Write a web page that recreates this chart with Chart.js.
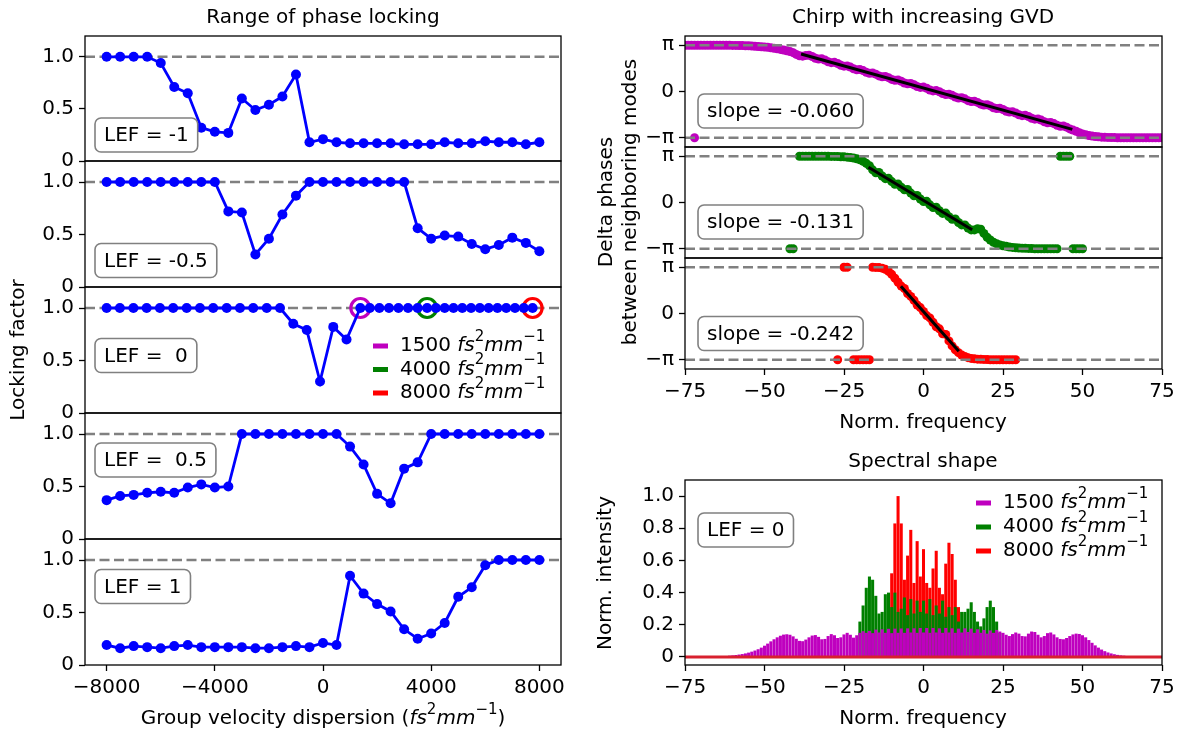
<!DOCTYPE html>
<html>
<head>
<meta charset="utf-8">
<title>Phase locking and chirp</title>
<script src="https://cdn.jsdelivr.net/npm/chart.js@4.4.1/dist/chart.umd.min.js"></script>
<style>
  body { margin: 0; background: #fff; }
  #fig { position: relative; width: 1188px; height: 734px; }
  #fig canvas { position: absolute; left: 0; top: 0; }
</style>
</head>
<body>
<div id="fig">
  <canvas id="lef-m1" width="1188" height="734"></canvas>
  <canvas id="lef-m05" width="1188" height="734"></canvas>
  <canvas id="lef-0" width="1188" height="734"></canvas>
  <canvas id="lef-05" width="1188" height="734"></canvas>
  <canvas id="lef-1" width="1188" height="734"></canvas>
  <canvas id="chirp-1500" width="1188" height="734"></canvas>
  <canvas id="chirp-4000" width="1188" height="734"></canvas>
  <canvas id="chirp-8000" width="1188" height="734"></canvas>
  <canvas id="spectrum" width="1188" height="734"></canvas>
</div>
<script>
const FONT = '"DejaVu Sans", sans-serif';
Chart.defaults.font.family = FONT;
Chart.defaults.font.size = 20;
Chart.defaults.color = '#000';

const M = '#bf00bf', G = '#008000', R = '#ff0000', BLUE = '#0000ff', GRAY = '#808080';

// ---- locking factor vs group velocity dispersion (fs^2/mm) ----
const gvd = [-8000, -7500, -7000, -6500, -6000, -5500, -5000, -4500, -4000, -3500, -3000,
  -2500, -2000, -1500, -1000, -500, 0, 500, 1000, 1500, 2000, 2500, 3000, 3500, 4000,
  4500, 5000, 5500, 6000, 6500, 7000, 7500, 8000];
const lockLEFm1 = [1.00, 1.00, 1.00, 1.00, 0.94, 0.71, 0.65, 0.32, 0.28, 0.27, 0.60,
  0.49, 0.54, 0.62, 0.83, 0.18, 0.21, 0.18, 0.17, 0.17, 0.17, 0.17, 0.16, 0.16, 0.16,
  0.18, 0.17, 0.17, 0.19, 0.18, 0.18, 0.16, 0.18];
const lockLEFm05 = [1.00, 1.00, 1.00, 1.00, 1.00, 1.00, 1.00, 1.00, 1.00, 0.72, 0.71,
  0.31, 0.46, 0.69, 0.87, 1.00, 1.00, 1.00, 1.00, 1.00, 1.00, 1.00, 1.00, 0.56, 0.46,
  0.49, 0.48, 0.41, 0.36, 0.40, 0.47, 0.42, 0.34];
const gvdLEF0 = [-8000, -7510, -7010, -6520, -6030, -5540, -5040, -4550, -4060, -3560,
  -3070, -2580, -2080, -1590, -1100, -600, -110, 380, 870, 1380, 1730, 2085, 2440, 2790,
  3145, 3500, 3850, 4175, 4500, 4825, 5150, 5475, 5800, 6125, 6450, 6775, 7100, 7425, 7750];
const lockLEF0 = [1.00, 1.00, 1.00, 1.00, 1.00, 1.00, 1.00, 1.00, 1.00, 1.00, 1.00,
  1.00, 1.00, 1.00, 0.85, 0.79, 0.30, 0.82, 0.70, 1.00, 1.00, 1.00, 1.00, 1.00, 1.00,
  1.00, 1.00, 1.00, 1.00, 1.00, 1.00, 1.00, 1.00, 1.00, 1.00, 1.00, 1.00, 1.00, 1.00];
const lockLEF05 = [0.37, 0.41, 0.42, 0.44, 0.45, 0.44, 0.49, 0.52, 0.49, 0.50, 1.00,
  1.00, 1.00, 1.00, 1.00, 1.00, 1.00, 1.00, 0.88, 0.71, 0.43, 0.34, 0.67, 0.73, 1.00,
  1.00, 1.00, 1.00, 1.00, 1.00, 1.00, 1.00, 1.00];
const lockLEF1 = [0.19, 0.16, 0.18, 0.17, 0.16, 0.18, 0.19, 0.17, 0.17, 0.17, 0.17,
  0.16, 0.16, 0.17, 0.18, 0.17, 0.21, 0.19, 0.85, 0.68, 0.58, 0.51, 0.34, 0.25, 0.30,
  0.40, 0.65, 0.74, 0.95, 1.00, 1.00, 1.00, 1.00];
// the three GVD settings picked out in the LEF = 0 sweep
const markedGvd = [1380, 3850, 7750];
const markedLock = [1, 1, 1];
const gvdLimits = [-8800, 8800];
const lockedLevel = [1, 1];
const gvdTicks = [-8000, -4000, 0, 4000, 8000];
const lockTicks = [0, 0.5, 1.0];

// ---- delta phase between neighbouring modes (rad) ----
const modeRange = (from, to) => { const m = []; for (let k = from; k <= to; k++) m.push(k); return m; };

const phase1500 = [3.14, 3.14, 3.14, 3.14, 3.14, 3.14, 3.14, 3.14, 3.14, 3.14, 3.14, 3.14, 3.14, 3.14, 3.14,
  3.13, 3.13, 3.12, 3.12, 3.11, 3.10, 3.09, 3.07, 3.06, 3.04, 3.02, 3.00, 2.97, 2.94, 2.90,
  2.86, 2.82, 2.77, 2.72, 2.64, 2.52, 2.42, 2.40, 2.45,
  2.46, 2.38, 2.26, 2.20, 2.22, 2.14, 2.02, 1.96, 1.98, 1.90, 1.78, 1.72, 1.74, 1.66, 1.54,
  1.48, 1.50, 1.42, 1.30, 1.24, 1.26, 1.18, 1.06, 1.00, 1.02, 0.94, 0.82, 0.76, 0.78, 0.70,
  0.58, 0.52, 0.54, 0.46, 0.34, 0.28, 0.30, 0.22, 0.10, 0.04, 0.06, -0.02, -0.14, -0.20,
  -0.18, -0.26, -0.38, -0.44, -0.42, -0.50, -0.62, -0.68, -0.66, -0.74, -0.86, -0.92, -0.90,
  -0.98, -1.10, -1.16, -1.14, -1.22, -1.34, -1.40, -1.38, -1.46, -1.58, -1.64, -1.62, -1.70,
  -1.82, -1.88, -1.86, -1.94, -2.06, -2.12, -2.10, -2.18, -2.30, -2.36, -2.34, -2.42, -2.54,
  -2.62, -2.70, -2.80, -2.88, -2.94, -2.99, -3.03, -3.06, -3.08, -3.10, -3.11, -3.12, -3.13, -3.13,
  -3.14, -3.14, -3.14, -3.14, -3.14, -3.14, -3.14, -3.14, -3.14, -3.14, -3.14, -3.14, -3.14, -3.14, -3.14];
const freq1500 = modeRange(-75, 75);
const wrapFreq1500 = [-72];
const wrapPhase1500 = [-3.14];

const phase4000 = [3.14, 3.14, 3.14, 3.14, 3.14, 3.14, 3.14, 3.14, 3.14, 3.14,
  3.13, 3.13, 3.12, 3.11, 3.10, 3.08, 3.05, 3.02, 2.97, 2.90, 2.80, 2.66,
  2.50, 2.22, 2.02, 2.04, 1.80, 1.62, 1.64, 1.42, 1.24, 1.26, 1.04, 0.86, 0.88, 0.64, 0.46,
  0.48, 0.24, 0.06, 0.08, -0.16, -0.34, -0.32, -0.56, -0.74, -0.72, -0.96, -1.14, -1.12,
  -1.36, -1.52, -1.52, -1.74, -1.86, -1.86,
  -1.78, -1.82, -2.10, -2.36, -2.55, -2.70, -2.80, -2.88, -2.94, -2.98, -3.02, -3.05, -3.07,
  -3.09, -3.10, -3.11, -3.12, -3.13, -3.14, -3.14, -3.14, -3.14, -3.14, -3.14, -3.14, -3.14];
const freq4000 = modeRange(-39, 42);
const wrapFreq4000 = [-42, -41, 43, 44, 45, 46, 47, 48, 49, 50];
const wrapPhase4000 = [-3.14, -3.14, 3.14, 3.14, 3.14, 3.14, -3.14, -3.14, -3.14, -3.14];

const phase8000 = [3.14, 3.13, 3.12, 3.08, 3.00, 2.86, 2.66, 2.40, 2.12, 1.86, 1.70, 1.36,
  1.16, 0.90, 0.58, 0.40, 0.14, -0.14, -0.30, -0.60, -0.90, -1.04, -1.38, -1.42, -1.86,
  -2.20, -2.46, -2.66, -2.82, -2.92, -3.00, -3.05, -3.08, -3.10, -3.11, -3.12, -3.13,
  -3.14, -3.14, -3.14, -3.14, -3.14, -3.14, -3.14, -3.14, -3.14];
const freq8000 = modeRange(-16, 29);
const wrapFreq8000 = [-27, -25, -24, -22, -21, -20, -19, -18, -17];
const wrapPhase8000 = [-3.14, 3.14, 3.14, -3.14, -3.14, -3.14, -3.14, -3.14, -3.14];

// linear fits over the chirped region
const fitFreq1500 = [-38.5, 46.8], fitPhase1500 = [2.55, -2.57];
const fitFreq4000 = [-17.3, 15.3], fitPhase4000 = [2.39, -1.85];
const fitFreq8000 = [-7.1, 11.1], fitPhase8000 = [1.85, -2.56];
const slopes = ['-0.060', '-0.131', '-0.242'];

const freqLimits = [-75, 75];
const piLevel = [Math.PI, Math.PI];
const minusPiLevel = [-Math.PI, -Math.PI];
const freqTicks = [-75, -50, -25, 0, 25, 50, 75];
const phaseTicks = [-Math.PI, 0, Math.PI];

// ---- normalised spectra at LEF = 0 ----
const specFreq = modeRange(-75, 75);
const spec1500 = [0, 0, 0, 0, 0, 0, 0, 0, 0, 0,
  0.003, 0.004, 0.005, 0.006, 0.008, 0.010, 0.012, 0.015, 0.018, 0.022,
  0.027, 0.033, 0.040, 0.048, 0.058, 0.070, 0.083, 0.097, 0.110, 0.122,
  0.132, 0.139, 0.141, 0.138, 0.128, 0.113, 0.100, 0.098, 0.108, 0.122,
  0.133, 0.136, 0.125, 0.110, 0.112, 0.130, 0.142, 0.135, 0.118, 0.122,
  0.140, 0.150, 0.138, 0.120, 0.135, 0.150, 0.160, 0.150, 0.162, 0.148,
  0.170, 0.152, 0.172, 0.150, 0.175, 0.148, 0.176, 0.150, 0.177, 0.150,
  0.178, 0.152, 0.178, 0.150, 0.180, 0.152, 0.180, 0.150, 0.180, 0.152,
  0.178, 0.150, 0.180, 0.152, 0.178, 0.150, 0.176, 0.152, 0.178, 0.155,
  0.176, 0.150, 0.172, 0.150, 0.168, 0.145, 0.165, 0.150, 0.168, 0.158,
  0.150, 0.138, 0.130, 0.142, 0.152, 0.145, 0.130, 0.128, 0.145, 0.158,
  0.155, 0.138, 0.122, 0.130, 0.148, 0.152, 0.140, 0.122, 0.112, 0.110,
  0.118, 0.130, 0.140, 0.145, 0.143, 0.135, 0.122, 0.105, 0.088, 0.072,
  0.058, 0.046, 0.036, 0.028, 0.022, 0.017, 0.013, 0.010, 0.008, 0.006,
  0.005, 0.004, 0.003, 0, 0, 0, 0, 0, 0, 0, 0];
const specFreq4000 = modeRange(-20, 24);
const spec4000 = [0.22, 0.32, 0.43, 0.50, 0.48, 0.38, 0.27, 0.28, 0.39, 0.40, 0.31,
  0.40, 0.28, 0.30, 0.37, 0.26, 0.36, 0.27, 0.35, 0.28, 0.35, 0.27, 0.36, 0.26, 0.32,
  0.27, 0.35, 0.25, 0.31, 0.26, 0.31, 0.22, 0.28, 0.28, 0.30, 0.34, 0.28, 0.22, 0.19,
  0.24, 0.31, 0.35, 0.31, 0.22, 0.15];
const specFreq8000 = modeRange(-10, 11);
const spec8000 = [0.52, 0.83, 1.00, 0.83, 0.48, 0.63, 0.79, 0.46, 0.72, 0.50, 0.67,
  0.46, 0.43, 0.55, 0.66, 0.43, 0.39, 0.58, 0.71, 0.64, 0.48, 0.31];
const specBase = [0, 0];
const intensityTicks = [0, 0.2, 0.4, 0.6, 0.8, 1.0];

// ---- layout ----
const W = 1188, H = 734, YW = 70, XH = 40;
const xy = (xs, ys) => xs.map((x, i) => ({ x, y: ys[i] }));
const minus = v => (v < 0 ? '\u2212' + Math.abs(v) : String(v));

const unitRuns = [['fs', 'i'], ['2', 's'], ['mm', 'i'], ['\u22121', 's']];
const gvdKeys = [['1500 ', M], ['4000 ', G], ['8000 ', R]];

// text, boxes and legend keys drawn over each panel
const decorations = {
  'lef-m1': { texts: [{ runs: [['Range of phase locking']], x: 323, y: 18 }],
              boxes: [{ text: 'LEF = -1', x: 95, y: 135 }] },
  'lef-m05': { boxes: [{ text: 'LEF = -0.5', x: 95, y: 260.5 }] },
  'lef-0': { texts: [{ runs: [['Locking factor']], x: 19, y: 350, rot: true }],
             boxes: [{ text: 'LEF =  0', x: 95, y: 355.5 }],
             keys: gvdKeys.map((k, i) => ({ color: k[1], x: 373, y: 346 + i * 23.5, runs: [[k[0]]].concat(unitRuns) })) },
  'lef-05': { boxes: [{ text: 'LEF =  0.5', x: 95, y: 460 }] },
  'lef-1': { texts: [{ runs: [['Group velocity dispersion (']].concat(unitRuns, [[')']]), x: 323, y: 719 }],
             boxes: [{ text: 'LEF = 1', x: 95, y: 586.5 }] },
  'chirp-1500': { texts: [{ runs: [['Chirp with increasing GVD']], x: 923, y: 18 }],
                  boxes: [{ text: 'slope = ' + slopes[0], x: 698, y: 111 }] },
  'chirp-4000': { texts: [{ runs: [['Delta phases']], x: 607, y: 202, rot: true },
                          { runs: [['between neighboring modes']], x: 631, y: 202, rot: true }],
                  boxes: [{ text: 'slope = ' + slopes[1], x: 698, y: 222 }] },
  'chirp-8000': { texts: [{ runs: [['Norm. frequency']], x: 923, y: 423 }],
                  boxes: [{ text: 'slope = ' + slopes[2], x: 698, y: 333.5 }] },
  'spectrum': { texts: [{ runs: [['Spectral shape']], x: 923, y: 462 },
                        { runs: [['Norm. frequency']], x: 923, y: 719 },
                        { runs: [['Norm. intensity']], x: 606, y: 573, rot: true }],
                boxes: [{ text: 'LEF = 0', x: 698, y: 530 }],
                keys: gvdKeys.map((k, i) => ({ color: k[1], x: 976, y: 503 + i * 24, runs: [[k[0]]].concat(unitRuns) })) }
};

function drawRuns(ctx, runs, x, y, align) {
  const font = st => (st === 'i' ? 'italic ' : '') + (st === 's' ? 15 : 20) + 'px ' + FONT;
  let total = 0;
  for (const [t, st] of runs) { ctx.font = font(st); total += ctx.measureText(t).width; }
  let cx = align === 'center' ? x - total / 2 : x;
  ctx.textAlign = 'left';
  ctx.textBaseline = 'middle';
  for (const [t, st] of runs) {
    ctx.font = font(st);
    ctx.fillText(t, cx, st === 's' ? y - 9 : y);
    cx += ctx.measureText(t).width;
  }
}

function roundBox(ctx, x, y, w, h, r) {
  ctx.beginPath();
  ctx.moveTo(x + r, y);
  ctx.arcTo(x + w, y, x + w, y + h, r);
  ctx.arcTo(x + w, y + h, x, y + h, r);
  ctx.arcTo(x, y + h, x, y, r);
  ctx.arcTo(x, y, x + w, y, r);
  ctx.closePath();
}

Chart.register({
  id: 'deco',
  afterDraw(chart) {
    const ctx = chart.ctx, a = chart.chartArea;
    const d = decorations[chart.canvas.id] || {};
    ctx.save();
    ctx.strokeStyle = '#000';
    ctx.lineWidth = 1.3;
    ctx.strokeRect(a.left, a.top, a.right - a.left, a.bottom - a.top);
    ctx.fillStyle = '#000';
    (d.texts || []).forEach(t => {
      if (t.rot) {
        ctx.save();
        ctx.translate(t.x, t.y);
        ctx.rotate(-Math.PI / 2);
        drawRuns(ctx, t.runs, 0, 0, 'center');
        ctx.restore();
      } else {
        drawRuns(ctx, t.runs, t.x, t.y, 'center');
      }
    });
    (d.boxes || []).forEach(b => {
      ctx.font = '20px ' + FONT;
      const w = ctx.measureText(b.text).width + 18;
      roundBox(ctx, b.x, b.y - 17, w, 34, 6);
      ctx.fillStyle = '#fff';
      ctx.fill();
      ctx.lineWidth = 1.6;
      ctx.strokeStyle = GRAY;
      ctx.stroke();
      ctx.fillStyle = '#000';
      ctx.textAlign = 'left';
      ctx.textBaseline = 'middle';
      ctx.fillText(b.text, b.x + 9, b.y + 1);
    });
    (d.keys || []).forEach(k => {
      ctx.fillStyle = k.color;
      ctx.fillRect(k.x, k.y - 2.5, 15, 5);
      ctx.fillStyle = '#000';
      drawRuns(ctx, k.runs, k.x + 27, k.y, 'left');
    });
    ctx.restore();
  }
});

function axis(ticks, fmt) {
  return {
    afterBuildTicks: s => { s.ticks = ticks.map(v => ({ value: v })); },
    ticks: { callback: fmt, padding: 5, maxRotation: 0, autoSkip: false },
    grid: { drawOnChartArea: false, offset: false, tickLength: 6, tickWidth: 1.3, tickColor: '#000' },
    border: { display: false }
  };
}

function panel(id, frame, o) {
  const [l, t, r, b] = frame;
  const showX = !!o.xTicks;
  const x = { type: 'linear', min: o.xRange[0], max: o.xRange[1], display: showX, offset: false };
  if (showX) {
    Object.assign(x, axis(o.xTicks, o.xFmt), { afterFit: s => { s.height = XH; } });
  }
  return new Chart(document.getElementById(id), {
    type: o.type || 'scatter',
    data: { datasets: o.datasets },
    options: {
      responsive: false,
      animation: false,
      events: [],
      layout: { autoPadding: false, padding: { left: l - YW, top: t, right: W - r, bottom: H - b - (showX ? XH : 0) } },
      plugins: { legend: { display: false }, tooltip: { enabled: false } },
      scales: {
        x: x,
        y: Object.assign({ type: 'linear', min: o.yRange[0], max: o.yRange[1],
          afterFit: s => { s.width = YW; } }, axis(o.yTicks, o.yFmt))
      }
    }
  });
}

const line = (xs, ys, color, extra) => Object.assign({
  data: xy(xs, ys), showLine: true, borderColor: color, backgroundColor: color,
  borderWidth: 2.5, pointRadius: 0
}, extra);
const dots = (xs, ys, color, r) => ({
  data: xy(xs, ys), showLine: false, pointRadius: r, pointBorderWidth: 0,
  pointBackgroundColor: color, borderColor: color
});
const dashed = { borderDash: [10, 4.5] };
const lockFmt = v => (v === 0 ? '0' : v.toFixed(1));

// left column: one panel per LEF value
const lockPanels = [
  ['lef-m1', 36, 161, gvd, lockLEFm1],
  ['lef-m05', 161, 287, gvd, lockLEFm05],
  ['lef-0', 287, 413, gvdLEF0, lockLEF0],
  ['lef-05', 413, 539, gvd, lockLEF05],
  ['lef-1', 539, 665, gvd, lockLEF1]
];
lockPanels.forEach(([id, top, bottom, xs, ys], i) => {
  const sets = [line(xs, ys, BLUE, { borderWidth: 2.8, pointRadius: 5, pointBorderWidth: 0, pointBackgroundColor: BLUE })];
  if (id === 'lef-0') {
    sets.push({ data: xy(markedGvd, markedLock), showLine: false, pointRadius: 9.5, pointBorderWidth: 3.2,
      pointBorderColor: [M, G, R], pointBackgroundColor: 'rgba(0,0,0,0)' });
  }
  sets.push(line(gvdLimits, lockedLevel, GRAY, dashed));
  panel(id, [85, top, 561, bottom], {
    datasets: sets,
    xRange: gvdLimits,
    yRange: [0, 1.2],
    xTicks: i === lockPanels.length - 1 ? gvdTicks : null,
    xFmt: minus,
    yTicks: lockTicks,
    yFmt: lockFmt
  });
});

// right column: delta phase per GVD setting
const chirpPanels = [
  ['chirp-1500', 36, 147, M, freq1500, phase1500, wrapFreq1500, wrapPhase1500, fitFreq1500, fitPhase1500],
  ['chirp-4000', 147, 258, G, freq4000, phase4000, wrapFreq4000, wrapPhase4000, fitFreq4000, fitPhase4000],
  ['chirp-8000', 258, 369, R, freq8000, phase8000, wrapFreq8000, wrapPhase8000, fitFreq8000, fitPhase8000]
];
chirpPanels.forEach(([id, top, bottom, color, fx, fy, wx, wy, lx, ly], i) => {
  panel(id, [685, top, 1162, bottom], {
    datasets: [
      line(freqLimits, piLevel, GRAY, dashed),
      line(freqLimits, minusPiLevel, GRAY, dashed),
      line(lx, ly, '#000', { borderWidth: 3 }),
      dots(wx, wy, color, 4.5),
      dots(fx, fy, color, 4.5)
    ],
    xRange: freqLimits,
    yRange: [-3.77, 3.77],
    xTicks: i === chirpPanels.length - 1 ? freqTicks : null,
    xFmt: minus,
    yTicks: phaseTicks,
    yFmt: v => (Math.abs(v) < 1e-9 ? '0' : v > 0 ? '\u03c0' : '\u2212\u03c0')
  });
});

// spectral shape, bars overlaid on the mode grid
const bars = (xs, ys, color) => ({
  data: xy(xs, ys), backgroundColor: color, borderWidth: 0,
  grouped: false, barPercentage: 1, categoryPercentage: 0.96
});
panel('spectrum', [685, 480, 1162, 665], {
  type: 'bar',
  datasets: [
    { type: 'line', data: xy(freqLimits, specBase), borderColor: '#d8202e', borderWidth: 3, pointRadius: 0 },
    bars(specFreq, spec1500, M),
    bars(specFreq4000, spec4000, G),
    bars(specFreq8000, spec8000, R)
  ],
  xRange: freqLimits,
  yRange: [-0.05, 1.1],
  xTicks: freqTicks,
  xFmt: minus,
  yTicks: intensityTicks,
  yFmt: lockFmt
});
</script>
</body>
</html>
